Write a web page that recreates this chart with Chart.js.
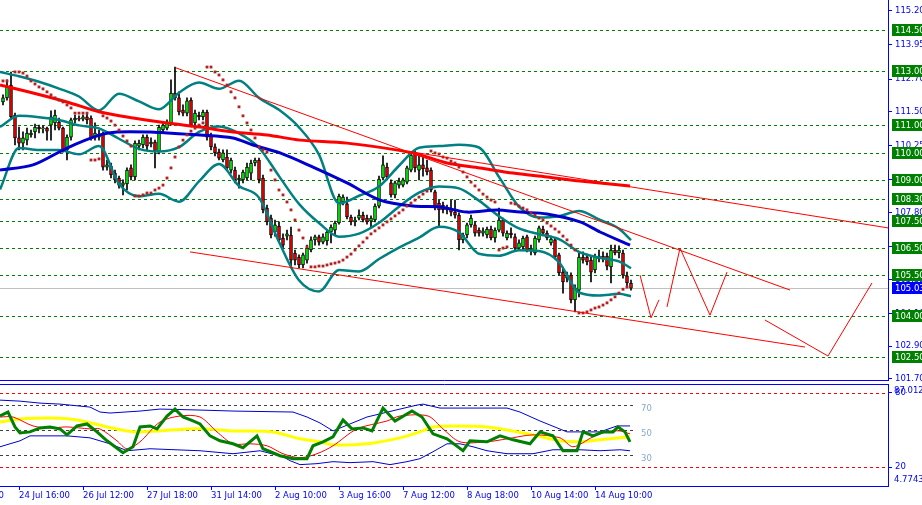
<!DOCTYPE html>
<html>
<head>
<meta charset="utf-8">
<script src="https://cdn.jsdelivr.net/npm/chart.js@4.4.0/dist/chart.umd.min.js"></script>
<style>
  html, body { margin: 0; padding: 0; background: #fff; overflow: hidden; }
  #wrap { position: relative; width: 922px; height: 505px; }
  #priceChart { position: absolute; left: 0; top: 0; }
  #tdiChart { position: absolute; left: 0; top: 381px; }
</style>
</head>
<body>
<div id="wrap">
  <canvas id="priceChart" width="922" height="381"></canvas>
  <canvas id="tdiChart" width="922" height="124"></canvas>
</div>
<script>
// ---- price bars: [open, high, low, close], one per bar ----
const candles = [
  [111.86,112.12,111.75,112.01],[112.01,112.67,111.93,112.41],[112.48,112.96,111.27,111.31],[111.38,111.45,110.28,110.54],
  [110.54,110.94,110.10,110.35],[110.35,110.76,110.10,110.54],[110.46,110.90,110.28,110.72],[110.65,110.83,110.57,110.72],
  [110.76,111.05,110.54,110.94],[110.94,111.01,110.72,110.87],[110.87,110.98,110.72,110.90],[110.90,110.94,110.46,110.79],
  [111.01,111.53,110.46,111.31],[111.09,111.56,110.83,111.38],[111.12,111.27,110.83,110.90],[110.90,110.94,110.02,110.10],
  [110.10,110.65,109.73,110.57],[110.57,111.27,110.46,111.20],[111.20,111.38,111.09,111.27],[111.27,111.35,111.16,111.23],
  [111.23,111.38,111.16,111.31],[111.31,111.42,111.05,111.20],[111.27,111.35,110.46,110.54],[110.57,111.09,110.46,110.72],
  [110.57,110.83,110.46,110.68],[110.68,110.76,109.36,109.47],[109.47,109.73,109.36,109.55],[109.51,109.62,109.07,109.18],
  [109.25,109.36,108.89,109.00],[109.07,109.14,108.70,108.81],[108.81,109.00,108.45,108.89],[108.85,109.44,108.63,109.36],
  [109.44,109.55,109.00,109.11],[109.11,110.43,109.00,110.35],[110.24,110.46,110.10,110.35],[110.28,110.65,110.17,110.57],
  [110.57,110.65,110.10,110.24],[110.32,110.54,110.21,110.39],[110.39,110.46,109.44,110.06],[110.02,111.01,109.95,110.94],
  [110.83,111.12,110.76,111.01],[110.90,111.20,110.83,111.09],[111.09,112.67,111.01,112.19],[112.19,113.14,111.93,112.01],
  [112.01,112.23,111.38,111.49],[111.56,111.75,111.35,111.45],[111.45,112.01,111.35,111.90],[111.93,112.01,110.94,111.01],
  [111.09,111.56,111.01,111.45],[111.38,111.49,111.20,111.31],[111.31,111.56,111.20,111.49],[111.49,111.56,110.46,110.57],
  [110.61,110.72,110.10,110.21],[110.21,110.32,109.88,109.99],[110.02,110.13,109.73,109.80],[109.73,110.10,109.66,109.99],
  [109.84,110.10,109.36,109.44],[109.36,109.80,109.25,109.73],[109.36,109.47,108.89,109.00],[109.00,109.18,108.70,109.07],
  [109.00,109.36,108.89,109.29],[109.07,109.62,109.00,109.47],[109.25,109.73,109.00,109.62],[109.62,109.80,109.51,109.73],
  [109.73,109.80,108.89,109.00],[109.07,109.18,107.79,107.90],[107.97,108.08,107.35,107.46],[107.60,107.71,106.87,106.98],
  [107.09,107.53,106.94,107.35],[107.31,107.46,106.72,106.80],[106.87,107.02,106.50,106.61],[106.94,107.16,106.80,107.02],
  [106.98,107.27,105.77,106.06],[106.32,106.43,105.88,106.06],[106.17,106.25,105.77,105.88],[105.88,106.32,105.77,106.25],
  [106.06,106.61,105.95,106.50],[106.43,106.91,106.36,106.80],[106.80,106.98,106.61,106.91],[106.91,106.98,106.61,106.72],
  [106.72,107.02,106.65,106.91],[106.76,107.16,106.61,107.09],[107.09,107.35,106.69,107.27],[107.16,107.49,106.98,107.42],
  [107.42,108.48,107.38,108.41],[108.19,108.45,108.08,108.37],[108.12,108.37,107.57,107.64],[107.64,107.71,107.35,107.46],
  [107.46,107.64,107.31,107.53],[107.60,107.90,107.53,107.71],[107.71,107.82,107.46,107.53],[107.60,107.71,107.38,107.46],
  [107.49,107.68,107.27,107.60],[107.53,108.12,107.46,108.04],[108.04,109.14,107.97,109.03],[109.07,109.88,109.00,109.55],
  [109.47,109.62,109.00,109.11],[108.89,109.00,108.37,108.45],[108.45,108.96,108.34,108.89],[108.81,109.07,108.70,108.96],
  [108.81,109.07,108.74,109.00],[108.92,109.51,108.85,109.44],[109.36,109.99,109.29,109.91],[109.99,110.06,109.29,109.44],
  [109.36,109.91,109.00,109.55],[109.55,109.84,109.14,109.40],[109.44,109.73,109.18,109.29],[109.36,109.44,108.56,108.63],
  [108.56,108.63,107.90,108.01],[108.15,108.26,107.27,107.90],[108.08,108.19,107.79,107.90],[107.90,108.08,107.75,107.97],
  [107.93,108.26,107.68,107.82],[107.82,108.26,107.60,107.71],[107.71,107.79,106.43,106.80],[106.80,107.05,106.69,106.98],
  [106.98,107.42,106.87,107.35],[107.35,107.71,107.27,107.60],[107.35,107.46,106.94,107.05],[107.16,107.24,106.94,107.05],
  [107.05,107.24,106.94,107.13],[106.98,107.27,106.87,107.20],[107.20,107.31,106.80,106.87],[106.87,107.24,106.72,107.16],
  [107.16,107.97,107.09,107.53],[107.53,107.60,106.94,107.05],[106.87,107.13,106.80,107.05],[107.05,107.24,106.87,106.98],
  [106.91,107.02,106.43,106.50],[106.50,106.80,106.43,106.69],[106.54,106.94,106.47,106.87],[106.91,106.98,106.36,106.43],
  [106.43,106.61,106.25,106.50],[106.32,106.94,106.25,106.87],[106.80,107.31,106.72,107.24],[107.20,107.31,106.98,107.05],
  [107.05,107.13,106.80,106.87],[106.69,106.94,106.61,106.83],[106.80,106.87,106.10,106.17],[106.25,106.32,105.51,105.59],
  [105.62,105.77,104.85,105.26],[105.40,105.62,105.26,105.51],[105.51,105.59,104.49,104.60],[104.60,105.15,104.16,105.04],
  [104.96,106.32,104.71,106.17],[106.17,106.36,105.95,106.06],[106.17,106.28,105.88,105.99],[106.06,106.17,105.26,105.62],
  [105.70,106.28,105.59,106.17],[106.10,106.43,105.99,106.21],[106.21,106.36,105.99,106.10],[106.21,106.32,105.70,105.84],
  [105.81,106.61,105.22,106.43],[106.43,106.61,106.25,106.32],[106.32,106.58,106.14,106.43],[106.32,106.43,105.40,105.51],
  [105.48,105.62,105.11,105.22],[105.22,105.33,104.96,105.03]
];
const lastPrice = 105.03;

// parabolic SAR, one value per bar
const sar = [
  112.63,112.63,null,
  112.96,112.96,112.92,112.81,112.63,112.52,112.41,112.34,112.23,112.12,112.01,111.93,111.86,111.75,111.64,
  111.45,111.45,111.45,111.45,
  109.73,109.73,109.77,
  111.35,111.27,111.16,111.01,110.83,110.61,110.43,110.24,
  108.41,108.41,108.45,108.52,108.52,108.63,108.70,108.81,109.07,109.44,109.84,110.21,110.46,110.65,110.79,110.90,111.01,111.09,
  113.14,113.14,112.96,112.85,112.67,112.48,112.23,112.01,111.68,111.35,111.09,110.83,110.54,110.21,110.10,110.02,
  109.36,109.00,108.63,108.45,108.19,107.90,107.53,107.16,106.87,106.54,
  105.81,105.81,105.84,105.84,105.88,105.92,105.95,105.99,106.06,106.17,106.28,106.43,106.58,106.72,106.87,107.02,
  107.13,107.24,107.35,107.46,107.57,107.68,107.79,107.90,108.04,108.15,108.26,108.37,
  108.48,108.59,
  110.06,109.99,109.95,109.84,109.80,109.69,109.62,109.47,109.29,109.11,108.92,108.78,108.63,108.48,108.37,108.26,108.19,
  106.43,106.50,106.54,
  108.15,108.12,108.04,107.97,107.90,107.79,107.71,107.60,107.53,107.42,107.31,107.20,107.09,106.94,106.80,106.61,106.43,
  104.12,104.12,104.16,104.23,104.30,104.34,104.41,104.49,104.60,104.71,104.85,104.99,105.07,105.11
];

// moving averages (bar position, price)
const slowMaBar = [-0.75,7.5,16,24.25,32.5,41,49.25,57.5,66,74.25,86,102.5,111,119.25,127.5,136,144.25,156.75];
const slowMaVal = [112.48,112.19,111.86,111.49,111.27,111.09,110.94,110.76,110.65,110.46,110.35,109.99,109.62,109.44,109.25,109.11,108.96,108.78];
const fastMaBar = [-0.75,7.5,16,24.25,28.5,36.75,41,49.25,57.5,62.5,69.25,77.5,86,94.25,102.5,109.25,116,123.5,129.25,136,144.25,149.25,156.75];
const fastMaVal = [109.36,109.55,110.17,110.65,110.76,110.76,110.72,110.65,110.54,110.28,109.99,109.47,108.89,108.26,108.04,108.01,107.82,107.90,107.82,107.75,107.46,107.09,106.61];

// bollinger bands, sampled every few bars
const bbBar = [-0.75,4,9,14,19,24,29,34,39,44,49,54,59,64,69,74,79,84,89,94,99,104,109,114,119,124,129,134,139,144,149,154,157];
const bbUpperVal = [112.96,112.80,112.60,112.35,112.06,111.55,112.16,111.88,111.59,112.20,112.57,112.34,112.64,112.01,111.57,110.93,109.93,108.14,108.42,108.76,109.52,110.18,110.24,110.29,110.19,109.11,108.02,107.62,107.67,107.86,107.55,107.21,106.79];
const bbMidVal = [110.94,111.35,111.30,111.20,111.00,110.89,110.51,110.14,110.04,110.20,110.76,110.96,110.71,110.18,109.14,108.12,107.42,106.92,107.03,107.43,108.02,108.53,108.76,108.69,108.24,107.67,107.22,107.01,106.83,106.36,106.15,106.01,105.76];
const bbLowerVal = [108.65,110.17,110.10,110.10,109.94,110.24,108.85,108.40,108.49,108.20,108.95,109.58,108.78,108.35,106.72,105.32,104.91,105.70,105.64,106.10,106.52,106.88,107.28,107.08,106.29,106.22,106.42,106.39,105.98,104.87,104.76,104.82,104.73];

// hand drawn trend lines and projected path: [bar, price] pairs
const trendLines = [
  [[43.25,113.11],[196.75,104.96]],
  [[102.5,110.02],[221.25,107.24]],
  [[46.75,106.36],[200.5,102.87]]
];
const projection = [
  [[159.25,105.51],[162,103.94],[164,104.60]],
  [[166,104.34],[169.25,106.50],[176.75,104.04],[181,105.62]],
  [[190.5,103.86],[206.25,102.54],[217.25,105.22]]
];

// horizontal levels and axis ticks
const levels = [114.50,113.00,111.00,110.00,109.00,108.30,107.50,106.50,105.50,104.00,102.50];
const priceTicks = [115.20,113.95,112.70,111.50,110.25,109.00,107.80,106.55,105.35,104.10,102.90,101.70];
const timeTickBars = [4,20,36,52,68,84,100,116,132,148];
const timeLabels = ['24 Jul 16:00','26 Jul 12:00','27 Jul 18:00','31 Jul 14:00','2 Aug 10:00',
  '3 Aug 16:00','7 Aug 12:00','8 Aug 18:00','10 Aug 14:00','14 Aug 10:00'];

// lower panel (TDI style oscillator)
const rsiBar = [-0.75,1.25,3,4.25,6.75,9.25,11.75,14.25,16,18.5,21,23.5,26,30,32.5,34.25,36.75,38.5,41,43,45,47.5,49.25,51.75,54.25,57.5,60,63.5,65,69.25,72.5,76,77.5,80,82.5,85,87.25,90,92.25,95,98,102.25,104.75,107.5,111,115,116.75,121,124.25,127.5,131.75,134.25,137.5,140,143.5,145,147.5,150,152.5,153.75,155.5,156.75];
const rsiVal = [61.2,64.4,52.4,47.6,48.4,51.6,52.4,50.8,46.0,53.2,54.8,48.4,41.2,31.6,36.4,52.4,53.2,50.8,61.2,66.8,60.4,57.2,54.8,45.2,41.2,38.8,35.6,45.2,34.8,29.2,26.8,26.8,37.2,40.4,44.4,58.0,50.8,51.6,49.2,67.6,57.2,65.2,60.4,46.8,42.8,33.2,41.2,40.4,45.2,42.0,38.8,48.4,45.2,33.2,33.2,48.4,45.2,48.4,48.4,52.4,48.4,40.4];
const signalBar = [-0.75,2.5,7.5,11.75,16,21.75,24.25,28.5,31,34.25,39.25,44.25,49.25,53.5,57.5,61.75,66,70,74.25,78.5,82.5,88.5,96,99.25,106.25,110,114.25,121,126,132.5,139.25,142.5,147.5,151,154.25,156.75];
const signalVal = [60.4,60.4,53.2,51.6,52.4,50.8,50.8,41.2,34.8,40.4,56.4,61.2,60.4,48.4,38.8,38.8,37.2,30.8,27.6,30.8,37.2,50.8,57.2,61.2,61.2,50.8,40.4,40.4,42.8,46.0,43.6,36.4,44.4,48.4,49.2,46.8];
const baseBar = [-0.75,4.25,11.75,16.75,21,26,31,34.25,39.25,46,51,57.5,67.5,74.25,79.25,82.5,91,99.25,104.25,107.5,114.25,121,126,132.5,139.25,144.25,149.25,156.75];
const baseVal = [56.4,58.8,59.6,58.8,56.4,52.4,49.2,48.4,49.2,50.8,50.8,49.2,48.4,42.8,40.4,38.0,38.8,43.6,48.4,52.4,53.2,52.4,50.0,46.0,41.2,40.4,42.0,44.4];
const bandUpBar = [-0.75,4.25,9.25,14.25,19.25,21.75,24.25,26.75,34.25,39.25,49.25,57.5,72.5,76,79.25,82.5,91,99.25,103.5,105,109.25,116,126,129.25,134.25,141,149.25,153.5,156.75];
const bandUpVal = [74.0,73.2,71.6,70.8,69.2,68.4,64.4,63.6,65.2,66.8,66.0,65.2,64.4,60.4,55.6,49.2,60.4,66.8,70.0,70.8,67.6,67.6,67.6,64.4,57.2,48.4,48.4,53.2,53.2];
const bandLowBar = [-0.75,4.25,6.75,16,21.75,26.75,31,36.75,49.25,57.5,64.25,70,71.75,74.25,78.5,82.5,86.75,92.5,96.75,101,104.25,107.5,111,114.25,117.5,121,126,132.5,137.5,144.25,149.25,154.25,156.75];
const bandLowVal = [36.4,41.2,45.2,45.2,43.6,38.8,33.2,34.8,33.2,30.8,33.2,28.4,25.2,22.0,22.8,24.4,23.6,24.4,22.0,24.4,26.8,32.4,38.8,38.8,36.4,33.2,30.8,30.8,34.0,34.0,33.2,34.0,33.2];
const oscLevels = [70, 50, 30];
const oscBounds = [80, 20];

const FONT = { family: 'DejaVu Sans', size: 8.5 };
const AXIS_BLUE = '#0000ff';
const xMin = -0.75, xMax = 221.25;

const toXY = (bars, vals) => bars.map((b, k) => ({ x: b, y: vals[k] }));

function lineSet(data, color, width, order, tension) {
  return {
    type: 'line', data: data, borderColor: color, borderWidth: width,
    pointRadius: 0, tension: tension, order: order, fill: false
  };
}

// ---------- main price panel ----------
const priceDecor = {
  id: 'priceDecor',
  beforeDatasetsDraw(chart) {
    const { ctx, chartArea: a, scales: { y } } = chart;
    ctx.save();
    ctx.lineWidth = 1;
    const cp = Math.round(y.getPixelForValue(lastPrice)) + 0.5;
    ctx.strokeStyle = '#c0c0c0';
    ctx.beginPath(); ctx.moveTo(a.left, cp); ctx.lineTo(a.right, cp); ctx.stroke();
    ctx.setLineDash([3, 3]);
    ctx.strokeStyle = '#008000';
    levels.forEach(v => {
      const py = Math.round(y.getPixelForValue(v)) + 0.5;
      ctx.beginPath(); ctx.moveTo(a.left, py); ctx.lineTo(a.right, py); ctx.stroke();
    });
    ctx.restore();
  },
  afterDraw(chart) {
    const { ctx, chartArea: a, scales: { y } } = chart;
    ctx.save();
    ctx.font = '8.5px "DejaVu Sans"';
    ctx.textBaseline = 'middle';
    const tag = (v, bg) => {
      const py = Math.round(y.getPixelForValue(v));
      ctx.fillStyle = bg;
      ctx.fillRect(a.right + 4, py - 6, 40, 12);
      ctx.fillStyle = '#ffffff';
      ctx.fillText(v.toFixed(2), a.right + 7, py + 0.5);
    };
    levels.forEach(v => tag(v, '#008000'));
    tag(lastPrice, '#0000ff');
    ctx.strokeStyle = AXIS_BLUE;
    ctx.beginPath(); ctx.moveTo(0, a.bottom - 0.5); ctx.lineTo(a.right + 1, a.bottom - 0.5); ctx.stroke();
    ctx.restore();
  }
};

const wickData = candles.map((c, i) => ({ x: i, y: [c[2], c[1]] }));
const bodyData = candles.map((c, i) => ({ x: i, y: [Math.min(c[0], c[3]), Math.max(c[0], c[3])] }));
const bodyColors = candles.map(c => c[3] >= c[0] ? '#00ff00' : '#ff0000');
const sarData = sar.map((v, i) => v === null ? null : { x: i, y: v }).filter(p => p);

const priceSets = [];
trendLines.concat(projection).forEach(pts => {
  priceSets.push(lineSet(pts.map(p => ({ x: p[0], y: p[1] })), '#ff0000', 1, 1, 0));
});
priceSets.push({
  type: 'line', data: sarData, showLine: false, pointStyle: 'rect', pointRadius: 2,
  pointBackgroundColor: '#b22222', pointBorderWidth: 0, order: 2
});
priceSets.push(lineSet(toXY(slowMaBar, slowMaVal), '#ff0000', 3, 3, 0.3));
priceSets.push(lineSet(toXY(fastMaBar, fastMaVal), '#0000cd', 3, 3, 0.3));
[bbUpperVal, bbMidVal, bbLowerVal].forEach(vals => {
  const ds = lineSet(toXY(bbBar, vals), '#008080', 2.5, 4, 0);
  ds.cubicInterpolationMode = 'monotone';
  priceSets.push(ds);
});
priceSets.push({
  type: 'bar', data: bodyData, backgroundColor: bodyColors, borderColor: '#000000', borderWidth: 1,
  borderSkipped: false, barThickness: 3, minBarLength: 1, grouped: false, order: 6
});
priceSets.push({
  type: 'bar', data: wickData, backgroundColor: '#000000', borderWidth: 0,
  barThickness: 1, grouped: false, order: 7
});

new Chart(document.getElementById('priceChart'), {
  type: 'bar',
  data: { datasets: priceSets },
  options: {
    responsive: false, animation: false, devicePixelRatio: 1, events: [],
    layout: { padding: 0, autoPadding: false },
    plugins: { legend: { display: false }, tooltip: { enabled: false } },
    scales: {
      x: { type: 'linear', min: xMin, max: xMax, display: false, offset: false },
      y: {
        position: 'right', min: 101.624, max: 115.60,
        afterBuildTicks: s => { s.ticks = priceTicks.map(v => ({ value: v })); },
        afterFit: s => { s.width = 34; s.paddingTop = 0; s.paddingBottom = 0; },
        ticks: { color: AXIS_BLUE, font: FONT, padding: 3, callback: v => v.toFixed(2) },
        grid: { drawOnChartArea: false, tickLength: 4, color: AXIS_BLUE },
        border: { color: AXIS_BLUE }
      }
    }
  },
  plugins: [priceDecor]
});

// ---------- lower oscillator panel ----------
const oscDecor = {
  id: 'oscDecor',
  beforeDatasetsDraw(chart) {
    const { ctx, chartArea: a, scales: { x, y } } = chart;
    ctx.save();
    ctx.lineWidth = 1;
    ctx.setLineDash([3, 3]);
    ctx.strokeStyle = '#ff0000';
    oscBounds.forEach(v => {
      const py = Math.round(y.getPixelForValue(v)) + 0.5;
      ctx.beginPath(); ctx.moveTo(a.left, py); ctx.lineTo(a.right, py); ctx.stroke();
    });
    const endX = x.getPixelForValue(candles.length - 0.5);
    ctx.strokeStyle = '#404040';
    oscLevels.forEach(v => {
      const py = Math.round(y.getPixelForValue(v)) + 0.5;
      ctx.beginPath(); ctx.moveTo(a.left, py); ctx.lineTo(endX, py); ctx.stroke();
    });
    ctx.restore();
  },
  afterDraw(chart) {
    const { ctx, chartArea: a, scales: { x, y } } = chart;
    ctx.save();
    ctx.font = '8.5px "DejaVu Sans"';
    ctx.textBaseline = 'middle';
    ctx.fillStyle = '#88aacc';
    const lx = x.getPixelForValue(candles.length + 1.5);
    oscLevels.forEach(v => ctx.fillText(String(v), lx, y.getPixelForValue(v) + 4));
    ctx.fillStyle = AXIS_BLUE;
    ctx.fillText('87.012', a.right + 6, a.top + 7);
    ctx.fillText('4.7743', a.right + 6, a.bottom - 6);
    // tail of the time label that falls off the left edge
    ctx.textAlign = 'right';
    ctx.fillText('0', 4, a.bottom + 10);
    ctx.strokeStyle = AXIS_BLUE;
    ctx.beginPath(); ctx.moveTo(0, a.top + 0.5); ctx.lineTo(a.right + 1, a.top + 0.5); ctx.stroke();
    ctx.restore();
  }
};

const oscSets = [
  lineSet(toXY(rsiBar, rsiVal), '#008000', 3, 1, 0),
  lineSet(toXY(signalBar, signalVal), '#ff0000', 1, 2, 0.3),
  lineSet(toXY(bandUpBar, bandUpVal), '#0000cd', 1, 3, 0),
  lineSet(toXY(bandLowBar, bandLowVal), '#0000cd', 1, 3, 0),
  lineSet(toXY(baseBar, baseVal), '#ffff00', 3, 4, 0.3)
];

new Chart(document.getElementById('tdiChart'), {
  type: 'line',
  data: { datasets: oscSets },
  options: {
    responsive: false, animation: false, devicePixelRatio: 1, events: [],
    layout: { padding: { top: 3 }, autoPadding: false },
    plugins: { legend: { display: false }, tooltip: { enabled: false } },
    scales: {
      x: {
        type: 'linear', min: xMin, max: xMax, offset: false,
        afterBuildTicks: s => { s.ticks = timeTickBars.map(v => ({ value: v })); },
        afterFit: s => { s.height = 19; s.paddingLeft = 0; s.paddingRight = 0; },
        ticks: {
          color: AXIS_BLUE, font: FONT, align: 'start', autoSkip: false, maxRotation: 0, padding: 1,
          callback: (v, i) => timeLabels[i]
        },
        grid: { drawOnChartArea: false, tickLength: 4, color: AXIS_BLUE },
        border: { color: AXIS_BLUE }
      },
      y: {
        position: 'right', min: 4.7743, max: 87.012,
        afterBuildTicks: s => { s.ticks = oscBounds.map(v => ({ value: v })); },
        afterFit: s => { s.width = 34; s.paddingTop = 0; s.paddingBottom = 0; },
        ticks: { color: AXIS_BLUE, font: FONT, padding: 3 },
        grid: { drawOnChartArea: false, tickLength: 4, color: AXIS_BLUE },
        border: { color: AXIS_BLUE }
      }
    }
  },
  plugins: [oscDecor]
});
</script>
</body>
</html>
